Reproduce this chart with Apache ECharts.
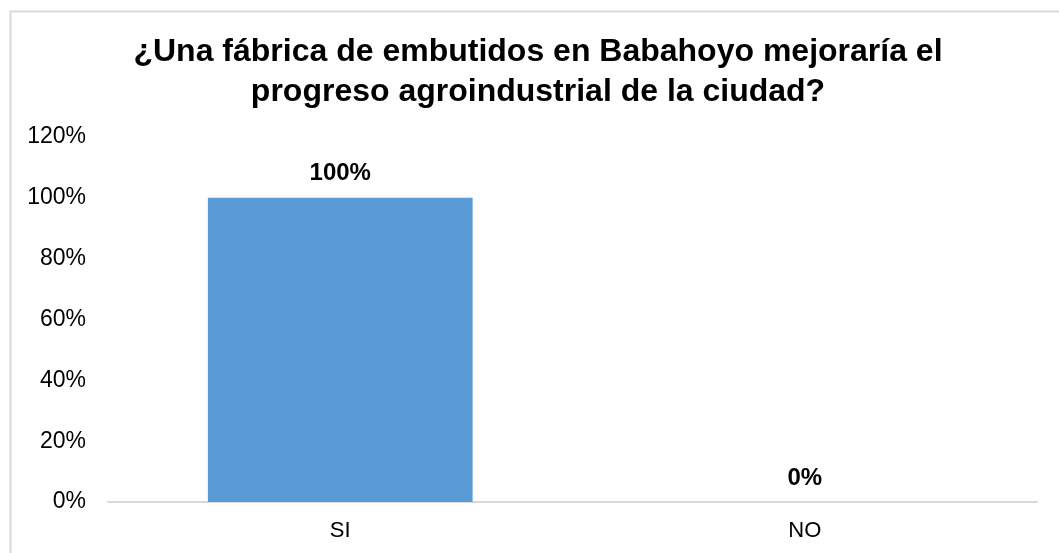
<!DOCTYPE html>
<html><head><meta charset="utf-8">
<script src="https://cdn.jsdelivr.net/npm/echarts@6/dist/echarts.min.js"></script>
<style>html,body{margin:0;padding:0;background:#fff;}#c{width:1059px;height:553px;}</style>
</head><body><div id="c"></div>
<script>
const titleLines = ["¿Una fábrica de embutidos en Babahoyo mejoraría el", "progreso agroindustrial de la ciudad?"];
const categories = ["SI", "NO"];
const values = [100, 0];
const yTicks = [0, 20, 40, 60, 80, 100, 120];

const chart = echarts.init(document.getElementById('c'), null, {renderer: 'canvas'});
chart.setOption({
  animation: false,
  backgroundColor: '#fff',
  graphic: [{
    type: 'rect', left: 8, top: 9, silent: true,
    shape: {width: 1080, height: 580},
    style: {fill: 'none', stroke: '#d9d9d9', lineWidth: 2}
  }, {
    type: 'text', x: 538, y: 72, silent: true,
    style: {
      text: titleLines.join('\n'), align: 'center', verticalAlign: 'middle',
      font: 'bold 32px "Liberation Sans"', fill: '#000', lineHeight: 40
    }
  }],
  grid: {left: 108, right: 22, top: 137, bottom: 51, containLabel: false},
  xAxis: {
    type: 'category', data: categories,
    axisLine: {lineStyle: {color: '#d9d9d9', width: 2}},
    axisTick: {show: false},
    axisLabel: {fontFamily: 'Liberation Sans', fontSize: 22, color: '#000', margin: 18}
  },
  yAxis: {
    type: 'value', min: yTicks[0], max: yTicks[yTicks.length - 1], interval: 20,
    axisLine: {show: false}, axisTick: {show: false}, splitLine: {show: false},
    axisLabel: {fontFamily: 'Liberation Sans', fontSize: 23, color: '#000', margin: 22,
      padding: [4, 0, 0, 0], formatter: v => v + '%'}
  },
  series: [{
    type: 'bar', data: values, barCategoryGap: '43%',
    itemStyle: {color: '#5B9BD5'},
    label: {show: true, position: 'top', distance: 12, formatter: p => p.value + '%',
      fontFamily: 'Liberation Sans', fontWeight: 'bold', fontSize: 24, color: '#000'}
  }]
});
</script></body></html>
